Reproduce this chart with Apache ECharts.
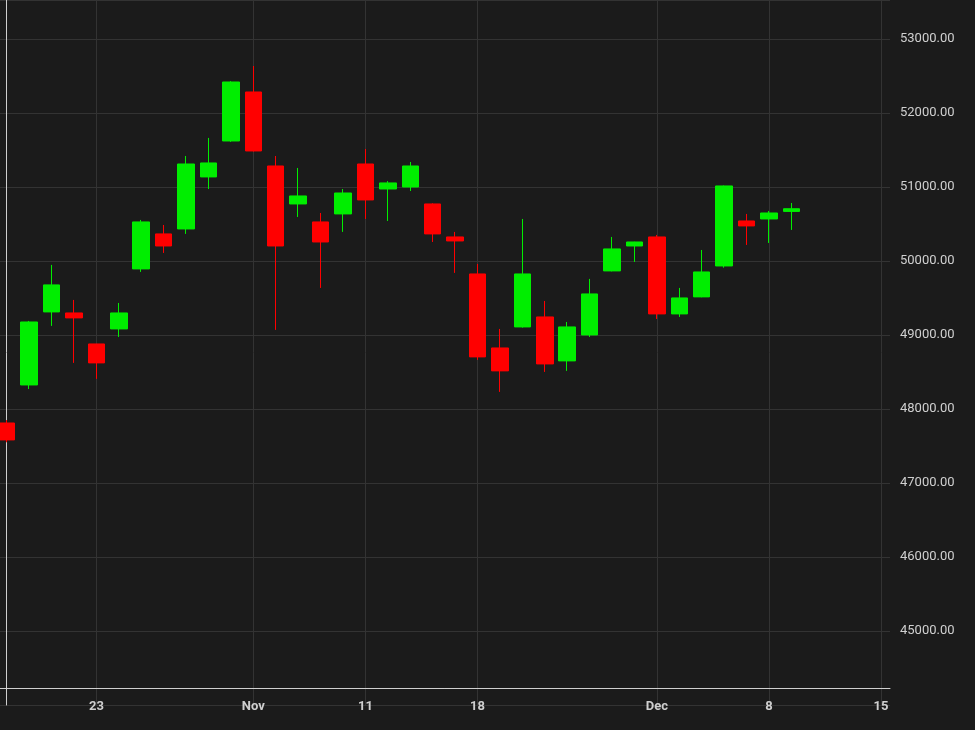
<!DOCTYPE html>
<html><head><meta charset="utf-8">
<script src="https://cdn.jsdelivr.net/npm/echarts@6/dist/echarts.min.js"></script>
<style>html,body{margin:0;padding:0;background:#1b1b1b}#c{width:975px;height:730px}</style>
</head><body><div id="c"></div>
<script>
// x positions are weekday slot indices; labels shown at specific slots
const tickSlots = [4,11,16,21,29,34,39];
const tickNames = ['23','Nov','11','18','Dec','8','15'];
const opens  = [47811,48325,49312,49298,48879,49082,49893,50366,50433,51136,51622,52284,51284,50771,50528,50636,51311,50973,51000,50771,50325,49825,48825,49109,49244,48650,49001,49866,50203,50325,49285,49515,49933,50541,50568,50670];
const closes = [47582,49176,49677,49231,48623,49298,50528,50203,51311,51325,52419,51487,50203,50879,50257,50919,50825,51055,51284,50366,50271,48704,48515,49825,48609,49109,49555,50163,50257,49285,49501,49852,51014,50474,50649,50706.22];
const lows   = [47550,48270,49123,48623,48407,48974,49852,50109,50366,50973,51610,51480,49069,50595,49636,50393,50568,50541,50946,50257,49839,48663,48231,49100,48501,48515,48974,49860,49987,49217,49244,49510,49910,50217,50244,50420];
const highs  = [47850,49190,49947,49474,48879,49433,50555,50487,51419,51663,52430,52635,51419,51257,50649,50973,51514,51080,51338,50780,50393,49960,49082,50568,49460,49176,49758,50325,50260,50352,49636,50149,51020,50636,50676,50784];
const lastPrice = 50706.22;

const data = opens.map((o,i)=>[i,o,closes[i],lows[i],highs[i]]);
const chart = echarts.init(document.getElementById('c'));
chart.setOption({
  backgroundColor:'#1b1b1b',
  animation:false,
  grid:{left:0,right:85,top:-39,bottom:25},
  xAxis:{type:'value',min:-0.3,max:39.4,offset:-17,
    axisLine:{lineStyle:{color:'#cfcfcf'}},
    axisTick:{show:true,length:0,customValues:tickSlots},
    axisLabel:{color:'#cfcfcf',fontSize:13,fontWeight:'bold',fontFamily:'Roboto',margin:12,
      customValues:tickSlots,formatter:v=>tickNames[tickSlots.indexOf(Math.round(v))]||''},
    splitLine:{show:true,lineStyle:{color:'#333'}}},
  yAxis:{type:'value',position:'right',min:44000,max:53527,interval:1000,
    axisLine:{show:true,lineStyle:{color:'#cfcfcf'}},axisTick:{show:false},
    axisLabel:{color:'#d0d0d0',fontSize:13,fontFamily:'Roboto',margin:10,
      formatter:v=>(v<=44000||v>53000)?'':v.toFixed(2)},
    splitLine:{lineStyle:{color:'#333'}}},
  series:[{type:'candlestick',data:data,barWidth:17,encode:{x:0,y:[1,2,3,4]},
    itemStyle:{color:'#00ee00',color0:'#ff0000',borderColor:'#00ee00',borderColor0:'#ff0000',borderWidth:1},
    markLine:{symbol:'none',silent:true,data:[{yAxis:lastPrice}],
      lineStyle:{opacity:0},
      label:{position:'end',formatter:()=>lastPrice.toFixed(2),backgroundColor:'#00ee00',color:'#000',
        fontSize:13,fontFamily:'Roboto',padding:[3,5],distance:2}}}]
});
</script></body></html>
